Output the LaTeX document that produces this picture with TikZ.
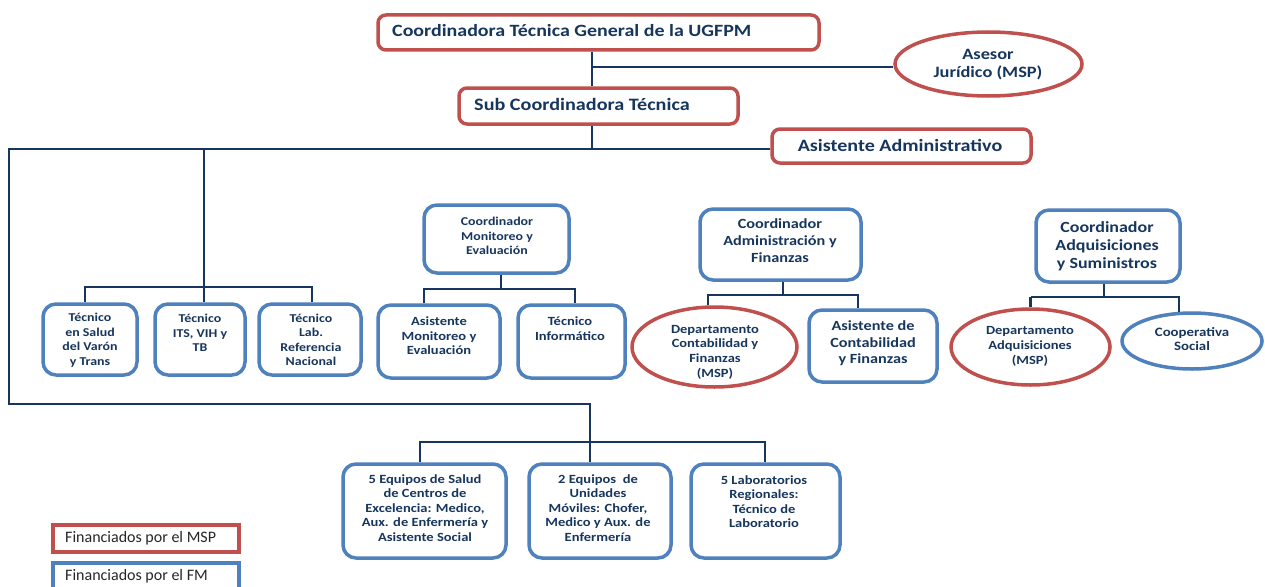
\documentclass[tikz,border=0pt]{standalone}
\usepackage{fontspec}
\setmainfont{Carlito}[BoldFeatures={FakeStretch=1.16}]
\usetikzlibrary{shapes.geometric}
\definecolor{navy}{RGB}{23,54,93}
\definecolor{mspred}{RGB}{192,80,77}
\definecolor{fmblue}{RGB}{79,129,189}
\definecolor{legtext}{RGB}{38,38,38}
\newcommand\setfs[2]{\fontsize{#1}{#2}\selectfont}
\begin{document}
\begin{tikzpicture}[x=1pt,y=-1pt,
  redbox/.style={draw=mspred, line width=3.5pt, rounded corners=8pt, fill=white, inner sep=0pt},
  bluebox/.style={draw=fmblue, line width=3.5pt, rounded corners=13pt, fill=white, inner sep=0pt},
  redell/.style={ellipse, draw=mspred, line width=3.5pt, fill=white, inner sep=0pt},
  blueell/.style={ellipse, draw=fmblue, line width=3.5pt, fill=white, inner sep=0pt},
  legbox/.style={line width=3.5pt, fill=white, inner sep=0pt},
  conn/.style={draw=navy, line width=2.5pt},
  lbl/.style={text=navy, font=\bfseries, align=center, inner sep=0pt},
  leg/.style={text=legtext, inner sep=0pt, anchor=west},
]
\clip (0,0) rectangle (1265,586);
\fill[white] (0,0) rectangle (1265,586);

% ---- boxes ----
\node[redbox, minimum width=441pt, minimum height=35pt] (ctg) at (598.5,32.5) {};
\node[redell, minimum width=187pt, minimum height=64pt] (ases) at (988.5,64) {};
\node[redbox, minimum width=279pt, minimum height=36pt] (sub) at (598.5,106) {};
\node[redbox, minimum width=259pt, minimum height=34pt] (adm) at (901.5,146) {};

\node[bluebox, minimum width=94pt, minimum height=71pt] (tsal) at (90,339.5) {};
\node[bluebox, minimum width=90pt, minimum height=71pt] (tits) at (200,339.5) {};
\node[bluebox, minimum width=102pt, minimum height=71pt] (tlab) at (310,339.5) {};

\node[bluebox, minimum width=145pt, minimum height=68pt] (cme) at (496.5,239) {};
\node[bluebox, minimum width=122pt, minimum height=73pt] (ame) at (439,341.5) {};
\node[bluebox, minimum width=107pt, minimum height=73pt] (tinf) at (571.5,341.5) {};

\node[bluebox, minimum width=161pt, minimum height=71pt] (cad) at (780.5,244.5) {};
\node[redell, minimum width=165pt, minimum height=80pt] (dcf) at (714.5,347) {};
\node[bluebox, minimum width=128pt, minimum height=72pt] (acf) at (873,346) {};

\node[bluebox, minimum width=144pt, minimum height=72pt] (cadq) at (1108,246) {};
\node[redell, minimum width=159pt, minimum height=76pt] (dadq) at (1030.5,347) {};
\node[blueell, minimum width=140pt, minimum height=56pt] (coop) at (1192,341) {};

\node[bluebox, minimum width=163pt, minimum height=94pt] (eq5) at (424.5,511) {};
\node[bluebox, minimum width=142pt, minimum height=94pt] (eq2) at (600,511) {};
\node[bluebox, minimum width=149pt, minimum height=94pt] (lab5) at (765.5,511) {};

\node[legbox, draw=mspred, minimum width=186pt, minimum height=27pt] (lmsp) at (146,538.5) {};
\node[legbox, draw=fmblue, minimum width=186pt, minimum height=40pt] (lfm) at (146,583) {};

% ---- junction coordinates ----
\coordinate (j1) at (592,67);
\coordinate (j2) at (592,149);
\coordinate (cL) at (9,149);
\coordinate (cB) at (9,404);
\coordinate (cE) at (590,404);
\coordinate (t0) at (204,149);
\coordinate (bt) at (0,287);
\coordinate (bm) at (0,289);
\coordinate (ba) at (0,295);
\coordinate (bq) at (0,297);
\coordinate (be) at (0,442);

% ---- connectors ----
\draw[conn] (j1 |- ctg.south) -- (j1 |- sub.north);
\draw[conn] (j1) -- (ases.west |- j1);
\draw[conn] (j2 |- sub.south) -- (j2);
\draw[conn] (adm.west |- j2) -- (cL) -- (cB) -- (cE) -- (cE |- eq2.north);
\draw[conn] (t0) -- (t0 |- tits.north);
\draw[conn] ([xshift=-5pt]tsal.north) -- ([xshift=-5pt]tsal.north |- bt) -- ([xshift=2pt]tlab.north |- bt) -- ([xshift=2pt]tlab.north);

\draw[conn] ([xshift=4.5pt]cme.south) -- ([xshift=4.5pt]cme.south |- bm);
\draw[conn] ([xshift=-15pt]ame.north) -- ([xshift=-15pt]ame.north |- bm) -- ([xshift=3.5pt]tinf.north |- bm) -- ([xshift=3.5pt]tinf.north);

\draw[conn] ([xshift=2.5pt]cad.south) -- ([xshift=2.5pt]cad.south |- ba);
\draw[conn] ([xshift=-6.5pt]dcf.north) -- ([xshift=-6.5pt]dcf.north |- ba) -- ([xshift=-15pt]acf.north |- ba) -- ([xshift=-15pt]acf.north);

\draw[conn] ([xshift=-4pt]cadq.south) -- ([xshift=-4pt]cadq.south |- bq);
\draw[conn] (dadq.north |- bq) -- (dadq.north);
\draw[conn] (dadq.north |- bq) -- ([xshift=-13pt]coop.north |- bq) -- ([xshift=-13pt,yshift=-1pt]coop.north);

\draw[conn] ([xshift=-4.5pt]eq5.north) -- ([xshift=-4.5pt]eq5.north |- be) -- ([xshift=-0.5pt]lab5.north |- be) -- ([xshift=-0.5pt]lab5.north);

% ---- labels ----
\node[lbl, anchor=west, font=\bfseries\setfs{17.2}{20}] (tctg) at (392,31) {Coordinadora Técnica General de la UGFPM};
\node[lbl, font=\bfseries\setfs{15.8}{18}] (tases) at (988,65) {Asesor\\Jurídico (MSP)};
\node[lbl, anchor=west, font=\bfseries\setfs{17.4}{20}] (tsub) at (474,104.5) {Sub Coordinadora Técnica};
\node[lbl, font=\bfseries\setfs{17.3}{20}] (tadm) at (900,145) {Asistente Administrativo};

\node[lbl, font=\bfseries\setfs{12}{14.5}] at (90,340) {Técnico\\en Salud\\del Varón\\y Trans};
\node[lbl, font=\bfseries\setfs{12}{14.5}] at (200,333) {Técnico\\ITS, VIH y\\TB};
\node[lbl, font=\bfseries\setfs{12}{14.5}] at (311,340) {Técnico\\Lab.\\Referencia\\Nacional};

\node[lbl, font=\bfseries\setfs{12}{14.5}] at (497,236) {Coordinador\\Monitoreo y\\Evaluación};
\node[lbl, font=\bfseries\setfs{12.5}{14.5}] at (439,336) {Asistente\\Monitoreo y\\Evaluación};
\node[lbl, font=\bfseries\setfs{12.5}{14.5}] at (570,328.5) {Técnico\\Informático};

\node[lbl, font=\bfseries\setfs{14}{17}] at (780,241) {Coordinador\\Administración y\\Finanzas};
\node[lbl, font=\bfseries\setfs{12.5}{14.7}] at (715,352) {Departamento\\Contabilidad y\\Finanzas\\(MSP)};
\node[lbl, font=\bfseries\setfs{14}{16.5}] at (873,343.5) {Asistente de\\Contabilidad\\y Finanzas};

\node[lbl, font=\bfseries\setfs{15.5}{18}] at (1107,246) {Coordinador\\Adquisiciones\\y Suministros};
\node[lbl, font=\bfseries\setfs{12.5}{15}] at (1030,346) {Departamento\\Adquisiciones\\(MSP)};
\node[lbl, font=\bfseries\setfs{12.8}{14.5}] at (1192,339) {Cooperativa\\Social};

\node[lbl, font=\bfseries\setfs{12.5}{14.5}] at (425,508) {5 Equipos de Salud\\de Centros de\\Excelencia: Medico,\\Aux. de Enfermería y\\Asistente Social};
\node[lbl, font=\bfseries\setfs{12.5}{14.5}] at (598,508) {2 Equipos~ de\\Unidades\\Móviles: Chofer,\\Medico y Aux. de\\Enfermería};
\node[lbl, font=\bfseries\setfs{12.5}{14.5}] at (764,501.5) {5 Laboratorios\\Regionales:\\Técnico de\\Laboratorio};

\node[leg, font=\setfs{16}{19}] at (65,538) {Financiados por el MSP};
\node[leg, font=\setfs{16}{19}] at (65,576) {Financiados por el FM};
\end{tikzpicture}
\end{document}
